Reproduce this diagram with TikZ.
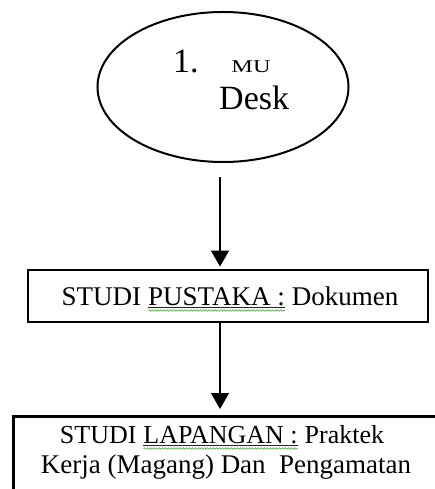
\documentclass[tikz,border=0pt]{standalone}
\usepackage{fontspec}
\setmainfont{Liberation Serif}
\usetikzlibrary{arrows.meta,shapes.geometric,decorations.pathmorphing}
\definecolor{spellgreen}{RGB}{95,175,85}
\tikzset{
  uline/.style={draw=black!85,line width=0.8bp},
  squiggle/.style={draw=spellgreen,line width=0.7bp,decorate,
    decoration={snake,segment length=3bp,amplitude=0.8bp}}}
% word with a plain underline and a green wavy mark beneath it
\newcommand{\spellmark}[1]{\tikz[baseline=(w.base)]{%
  \node[inner sep=0pt,outer sep=0pt] (w) {#1};
  \draw[uline] ([yshift=-2.5bp]w.base west) -- ([yshift=-2.5bp]w.base east);
  \draw[squiggle] ([yshift=-5.5bp]w.base west) -- ([yshift=-5.5bp]w.base east);}}
\begin{document}
\begin{tikzpicture}[x=1bp,y=-1bp,
  boxline/.style={draw=black,line width=2.8bp},
  flow/.style={draw=black,line width=1.4bp,-{Triangle[width=18bp,length=16bp]}},
  boxtext/.style={inner sep=0pt,font=\fontsize{27bp}{30bp}\selectfont},
  bigtxt/.style={inner sep=0pt,font=\fontsize{34bp}{40bp}\selectfont,anchor=base west}]
\useasboundingbox (0,0) rectangle (435,489);
\clip (0,0) rectangle (435,489);

% start node
\node[ellipse,draw,line width=2bp,minimum width=251bp,minimum height=150bp] (mu) at (223,87) {};
\node[bigtxt] (one) at (173,73) {1.};
\node[inner sep=0pt,anchor=base,font=\fontsize{18bp}{20bp}\selectfont] (mutxt) at (251,73) {\scalebox{1.35}[1]{MU}};
\node[bigtxt] (desk) at (219,110) {Desk};

% library study
\node[boxline,minimum width=400bp,minimum height=52bp] (pus) at (228,296) {};
\node[boxtext,anchor=base] (pustxt) at (230,305) {STUDI \spellmark{PUSTAKA :} Dokumen};

% field study
\node[boxline,minimum width=430bp,minimum height=120bp,anchor=north west] (lap) at (12,415) {};
\node[boxtext,anchor=base,font=\fontsize{26bp}{30bp}\selectfont] (lap1) at (222,443) {STUDI \spellmark{LAPANGAN :} Praktek};
\node[boxtext,anchor=base] (lap2) at (226,473) {Kerja (Magang) Dan\ \ Pengamatan};

% connectors
\coordinate (a1) at (220,177);
\draw[flow,shorten >=2bp] (a1) -- (a1 |- pus.north);
\coordinate (a2) at (pus.south -| a1);
\draw[flow,shorten >=6bp] (a2) -- (a2 |- lap.north);
\end{tikzpicture}
\end{document}
